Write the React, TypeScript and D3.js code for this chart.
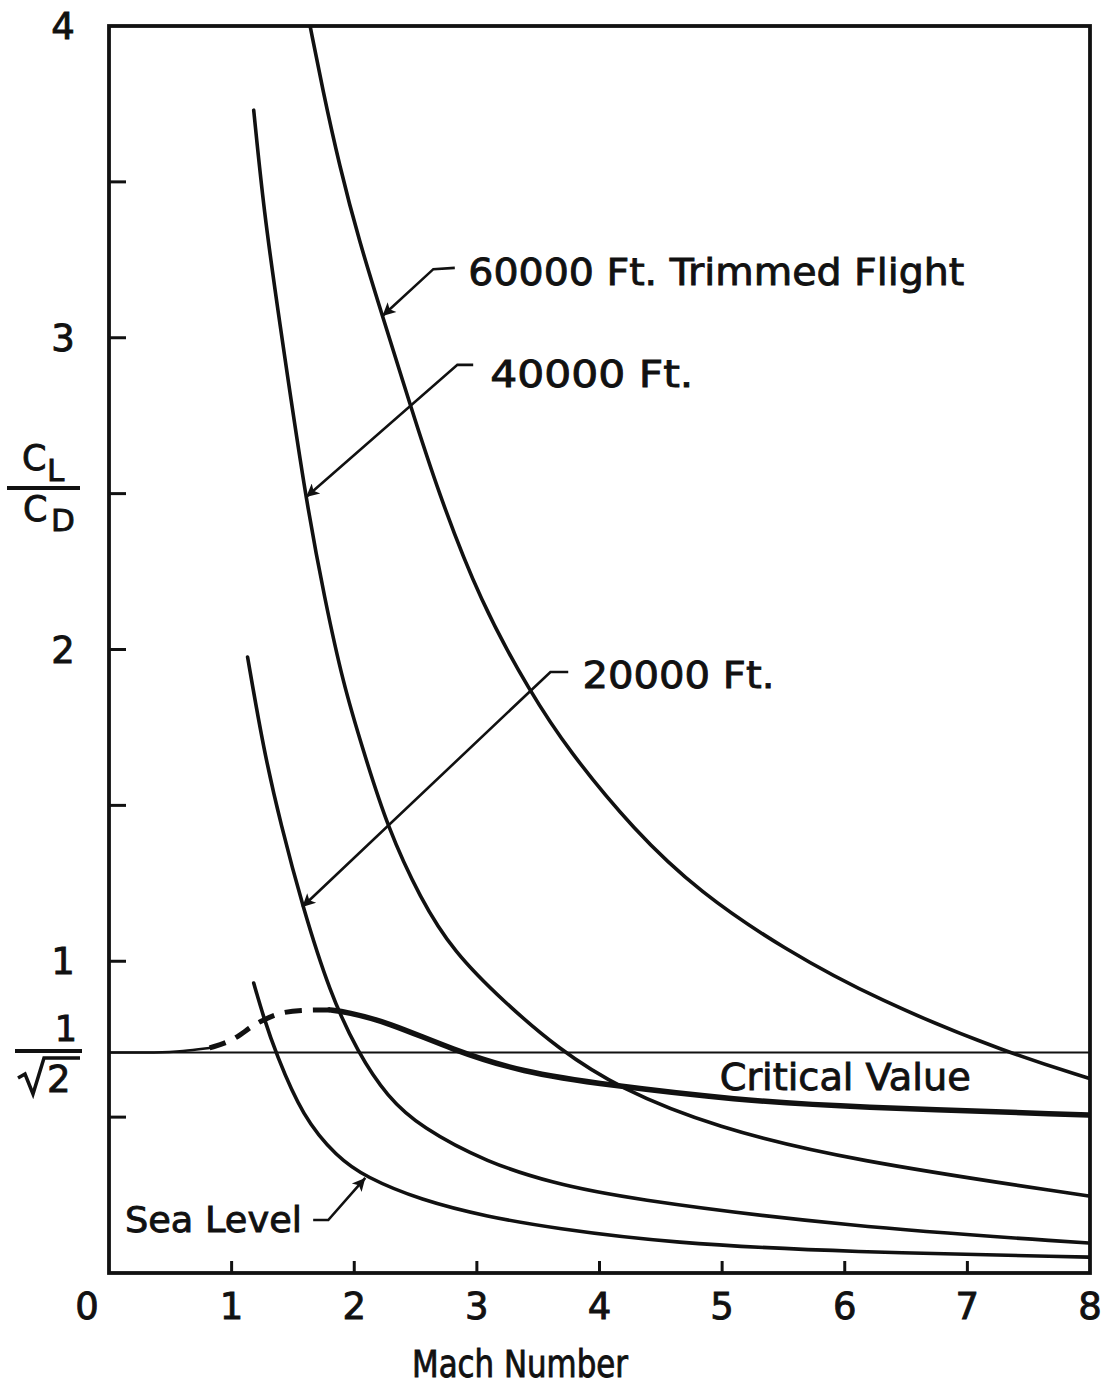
import React from 'react';
import * as d3 from 'd3';

const W = 1103;
const H = 1388;

// Axis ticks
const machTicks = [0, 1, 2, 3, 4, 5, 6, 7, 8];
const machInnerTicks = [1, 2, 3, 4, 5, 6, 7];
const ratioLabels = [1, 2, 3, 4];
const ratioInnerTicks = [0.5, 1, 1.5, 2, 2.5, 3, 3.5];
const criticalValue = 1 / Math.SQRT2;

// Series: [Mach, CL/CD]
const alt60000: [number, number][] = [
  [1.64, 4.0], [1.74, 3.8], [1.88, 3.55], [2.04, 3.31], [2.23, 3.07], [2.46, 2.78],
  [2.68, 2.51], [3.03, 2.15], [3.44, 1.86], [3.74, 1.68], [4.28, 1.42], [4.82, 1.22],
  [5.5, 1.04], [6.27, 0.875], [7.33, 0.705], [7.99, 0.625],
];
const alt40000: [number, number][] = [
  [1.18, 3.73], [1.265, 3.4], [1.38, 3.08], [1.6, 2.49], [1.76, 2.16], [1.91, 1.89],
  [2.07, 1.68], [2.27, 1.43], [2.54, 1.2], [2.81, 1.03], [3.22, 0.87], [3.66, 0.72],
  [4.17, 0.59], [4.94, 0.468], [6.03, 0.362], [7.99, 0.247],
];
const alt20000: [number, number][] = [
  [1.13, 1.976], [1.26, 1.68], [1.4, 1.44], [1.58, 1.174], [1.8, 0.9], [2.03, 0.706],
  [2.27, 0.565], [2.54, 0.468], [3.09, 0.353], [3.62, 0.289], [4.17, 0.241], [6.03, 0.148],
  [7.99, 0.096],
];
const seaLevel: [number, number][] = [
  [1.18, 0.93], [1.26, 0.821], [1.36, 0.706], [1.58, 0.5], [1.86, 0.372], [2.09, 0.308],
  [2.54, 0.234], [3.09, 0.18], [3.62, 0.144], [4.57, 0.096], [6.03, 0.067], [7.99, 0.051],
];
const criticalLead: [number, number][] = [
  [0.0, 0.707], [0.4, 0.707], [0.6, 0.711], [0.82, 0.722],
];
const criticalDashed: [number, number][] = [
  [0.82, 0.722], [1.01, 0.744], [1.15, 0.789], [1.26, 0.812], [1.38, 0.834], [1.56, 0.844], [1.8, 0.844],
];
const criticalSolid: [number, number][] = [
  [1.8, 0.844], [1.94, 0.837], [2.27, 0.805], [2.81, 0.715], [3.36, 0.645], [4.06, 0.603],
  [5.12, 0.555], [6.03, 0.532], [7.99, 0.507],
];

// Annotations (data units): tip on curve, elbow, horizontal end, text start
const annotations = [
  { text: '60000 Ft. Trimmed Flight', tip: [2.23, 3.07], elbow: [2.645, 3.22], hEnd: [2.82, 3.224], textAt: [2.93, 3.17], width: 496 },
  { text: '40000 Ft.', tip: [1.608, 2.489], elbow: [2.841, 2.913], hEnd: [2.97, 2.913], textAt: [3.11, 2.842], width: 203 },
  { text: '20000 Ft.', tip: [1.576, 1.174], elbow: [3.6, 1.928], hEnd: [3.745, 1.928], textAt: [3.861, 1.877], width: 192 },
];
const seaLabel = { text: 'Sea Level', tip: [2.09, 0.305], elbow: [1.788, 0.17], hEnd: [1.665, 0.17], textAt: [0.13, 0.1315], width: 177 };
const critLabel = { text: 'Critical Value', textAt: [4.98, 0.587], width: 251 };

const FONT = '"DejaVu Sans", sans-serif';

export default function App() {
  const x = d3.scaleLinear().domain([0, 8]).range([109, 1090]);
  const y = d3.scaleLinear().domain([0, 4]).range([1273, 26]);
  const line = d3
    .line<[number, number]>()
    .x((d) => x(d[0]))
    .y((d) => y(d[1]))
    .curve(d3.curveBasis);

  const series = [alt60000, alt40000, alt20000, seaLevel];
  const ink = '#111';
  const textStroke = { stroke: ink, strokeWidth: 0.9 };

  return (
    <svg
      width={W}
      height={H}
      viewBox={`0 0 ${W} ${H}`}
      style={{ position: 'absolute', left: 0, top: 0, background: '#fff' }}
    >
      <defs>
        <marker id="ah" viewBox="0 0 10 10" refX="10" refY="5" markerUnits="userSpaceOnUse" markerWidth="22" markerHeight="13" orient="auto">
          <path d="M0,0 L10,5 L0,10 L2.5,5 z" fill={ink} />
        </marker>
        <clipPath id="plot">
          <rect x={x(0)} y={y(4)} width={x(8) - x(0)} height={y(0) - y(4)} />
        </clipPath>
      </defs>
      <rect x={0} y={0} width={W} height={H} fill="#fff" />

      {/* critical value horizontal line */}
      <line x1={x(0)} x2={x(8)} y1={y(criticalValue)} y2={y(criticalValue)} stroke={ink} strokeWidth={2} />

      <g clipPath="url(#plot)" fill="none" stroke={ink} strokeLinecap="round">
        {series.map((s, i) => (
          <path key={i} d={line(s) || ''} strokeWidth={3.6} />
        ))}
        <path d={line(criticalLead) || ''} strokeWidth={2.5} />
        <path d={line(criticalDashed) || ''} strokeWidth={5} strokeDasharray="17 11" strokeLinecap="butt" />
        <path d={line(criticalSolid) || ''} strokeWidth={5.5} />
      </g>

      {/* frame */}
      <rect x={x(0)} y={y(4)} width={x(8) - x(0)} height={y(0) - y(4)} fill="none" stroke={ink} strokeWidth={3.8} />

      {/* ticks */}
      {ratioInnerTicks.map((t) => (
        <line key={'yt' + t} x1={x(0)} x2={x(0) + 17} y1={y(t)} y2={y(t)} stroke={ink} strokeWidth={3} />
      ))}
      {machInnerTicks.map((t) => (
        <line key={'xt' + t} x1={x(t)} x2={x(t)} y1={y(0)} y2={y(0) - 12} stroke={ink} strokeWidth={3} />
      ))}

      {/* tick labels */}
      <g fontFamily={FONT} fill={ink} fontSize={37} {...textStroke}>
        {machTicks.map((t) => (
          <text key={'xl' + t} x={t === 0 ? x(0) - 22 : x(t)} y={1319} textAnchor="middle">
            {t}
          </text>
        ))}
        {ratioLabels.map((t) => (
          <text key={'yl' + t} x={63} y={y(t) + 13} textAnchor="middle">
            {t}
          </text>
        ))}
      </g>

      {/* axis titles */}
      <text x={520} y={1377} textAnchor="middle" fontFamily={FONT} fontSize={37} fill={ink} textLength={216} lengthAdjust="spacingAndGlyphs" {...textStroke}>
        Mach Number
      </text>
      <g fontFamily={FONT} fill={ink} {...textStroke}>
        <text x={22} y={470} fontSize={35}>C</text>
        <text x={47} y={481} fontSize={31}>L</text>
        <line x1={7} x2={80} y1={488} y2={488} stroke={ink} strokeWidth={4} />
        <text x={23} y={521} fontSize={35}>C</text>
        <text x={51} y={531} fontSize={31}>D</text>

        <text x={66} y={1041} fontSize={35} textAnchor="middle">1</text>
        <line x1={15} x2={82} y1={1051} y2={1051} stroke={ink} strokeWidth={4} />
        <path d="M18,1078 L25,1074 L33,1094 L44,1058 L80,1058" fill="none" stroke={ink} strokeWidth={3.5} />
        <text x={47} y={1092} fontSize={37}>2</text>
      </g>

      {/* annotations */}
      <g fontFamily={FONT} fill={ink} fontSize={38}>
        {annotations.map((a, i) => (
          <g key={'an' + i}>
            <path
              d={`M${x(a.hEnd[0])},${y(a.hEnd[1])} L${x(a.elbow[0])},${y(a.elbow[1])} L${x(a.tip[0])},${y(a.tip[1])}`}
              fill="none"
              stroke={ink}
              strokeWidth={2.6}
              markerEnd="url(#ah)"
            />
            <text x={x(a.textAt[0])} y={y(a.textAt[1])} textLength={a.width} lengthAdjust="spacingAndGlyphs" {...textStroke}>
              {a.text}
            </text>
          </g>
        ))}
        <path
          d={`M${x(seaLabel.hEnd[0])},${y(seaLabel.hEnd[1])} L${x(seaLabel.elbow[0])},${y(seaLabel.elbow[1])} L${x(seaLabel.tip[0])},${y(seaLabel.tip[1])}`}
          fill="none"
          stroke={ink}
          strokeWidth={2.6}
          markerEnd="url(#ah)"
        />
        <text x={x(seaLabel.textAt[0])} y={y(seaLabel.textAt[1])} fontSize={36} textLength={seaLabel.width} lengthAdjust="spacingAndGlyphs" {...textStroke}>
          {seaLabel.text}
        </text>
        <text x={x(critLabel.textAt[0])} y={y(critLabel.textAt[1])} fontSize={38} textLength={critLabel.width} lengthAdjust="spacingAndGlyphs" {...textStroke}>
          {critLabel.text}
        </text>
      </g>
    </svg>
  );
}
